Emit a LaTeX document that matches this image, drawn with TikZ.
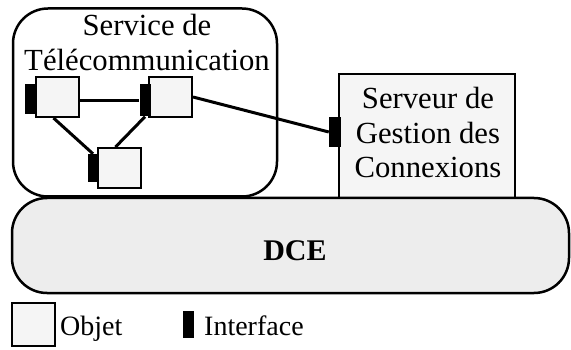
\documentclass[tikz,border=0pt]{standalone}
\usepackage{fontspec}
\setmainfont{Liberation Serif}
\begin{document}
\begin{tikzpicture}[x=1pt,y=-1pt,
  objet/.style={draw,line width=2pt,fill=black!4,minimum width=43pt,minimum height=40pt,inner sep=0pt},
  iface/.style={fill=black,draw=none,inner sep=0pt,minimum width=11pt},
  link/.style={line width=3pt},
  txt/.style={font=\fontsize{30.7}{35}\selectfont,align=center,inner sep=0pt},
  legtxt/.style={font=\fontsize{28}{32}\selectfont,anchor=base west,inner sep=0pt}]
\useasboundingbox (0,0) rectangle (571,350);

% Service de Télécommunication
\node[draw,line width=2.5pt,rounded corners=35pt,minimum width=264pt,minimum height=188pt,inner sep=0pt]
  (svc) at (145,102.5) {};
\node[txt] (svctext) at (147,42.5) {Service de\\Télécommunication};

% Serveur de Gestion des Connexions
\node[draw,line width=2pt,fill=black!4,minimum width=176pt,minimum height=125pt,inner sep=0pt]
  (srv) at (426.5,137) {};
\node[txt] (srvtext) at (428,132.5) {Serveur de\\Gestion des\\Connexions};

% objects and their interfaces
\node[objet] (A) at (57.5,97) {};
\node[objet] (B) at (170.5,97) {};
\node[objet] (C) at (119.5,168) {};
\node[iface,minimum height=30pt] (Ai) at (30,99) {};
\node[iface,minimum height=32pt] (Bi) at (145,100.5) {};
\node[iface,minimum height=28pt] (Ci) at (93,168) {};
\node[iface,minimum width=12pt,minimum height=30pt] (Si) at (335,132) {};

% connectors
\draw[link] (Bi.center -| A.east) -- (Bi.west);
\draw[link] ([xshift=-4pt]A.south) -- (Ci.north);
\draw[link] (Bi.south) -- ([xshift=-4pt]C.north);
\draw[link] (B.east) -- (Si.west);

% boxes and interfaces again, over the connector ends
\node[objet] at (A) {};
\node[objet] at (B) {};
\node[objet] at (C) {};
\node[iface,minimum height=30pt] at (Ai) {};
\node[iface,minimum height=32pt] at (Bi) {};
\node[iface,minimum height=28pt] at (Ci) {};
\node[iface,minimum width=12pt,minimum height=30pt] at (Si) {};

% DCE
\node[draw,line width=2.5pt,fill=black!7,rounded corners=35pt,minimum width=557pt,minimum height=95pt,inner sep=0pt]
  (dce) at (290.5,245.5) {};
\node[font=\fontsize{30}{35}\selectfont\bfseries,inner sep=0pt] (dcetext) at (295,251) {DCE};

% legend
\node[objet,minimum height=43pt] (lo) at (33.5,324.5) {};
\node[legtxt] (lot) at (60,335) {Objet};
\node[iface,minimum height=27pt] (li) at (188.5,324.5) {};
\node[legtxt] (lit) at (204,335) {Interface};
\end{tikzpicture}
\end{document}
